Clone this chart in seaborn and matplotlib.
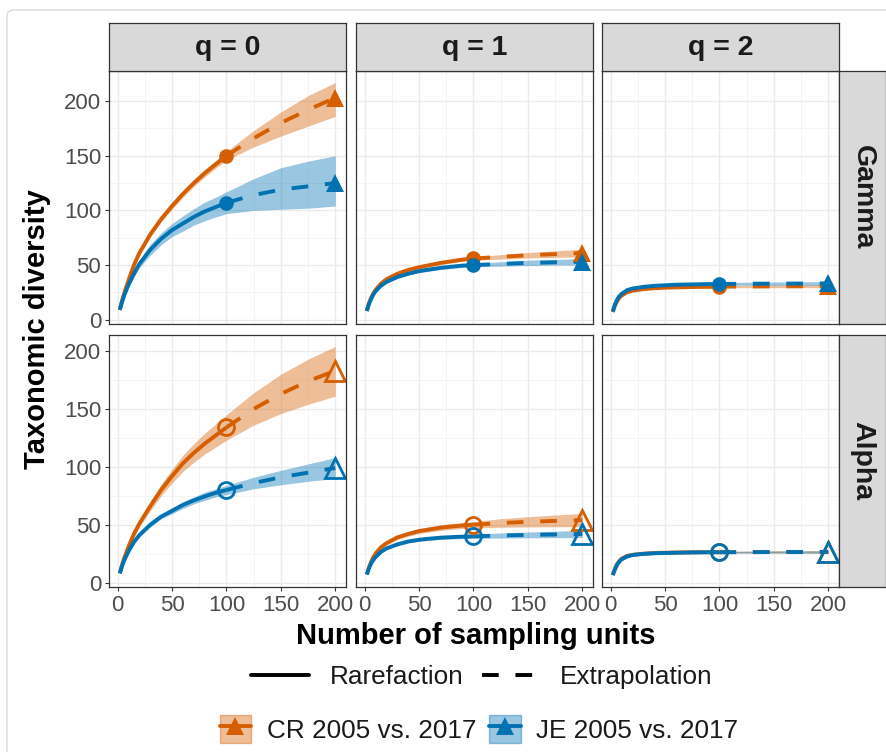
import numpy as np
import pandas as pd
import matplotlib
matplotlib.use("Agg")
import matplotlib.pyplot as plt
from matplotlib.lines import Line2D
from matplotlib.patches import Patch, FancyBboxPatch
import seaborn as sns

# ---------------- data ----------------
M = [2, 4, 6, 8, 10, 15, 20, 30, 40, 50, 60, 70, 80, 90, 100, 125, 150, 175, 200]
REF_M = 100
MAX_M = 200
LEVELS = ["Gamma", "Alpha"]
ORDERS = [0, 1, 2]
SITES = ["CR 2005 vs. 2017", "JE 2005 vs. 2017"]
COLORS = ["#D55E00", "#0072B2"]
XTICKS = [0, 50, 100, 150, 200]
YTICKS = [0, 50, 100, 150, 200]

# Gamma, q = 0
G0_CR = [9, 17, 24, 30, 36, 50, 61, 78, 92, 104, 115, 125, 134, 142, 150, 166, 180, 192, 203]
G0_CR_LO = [8.5, 16, 23, 28.5, 34.5, 48, 59, 75.5, 89.5, 101, 112, 122, 130.5, 138.5, 146, 158, 168, 177, 186]
G0_CR_HI = [9.5, 18, 25, 31.5, 37.5, 52, 63, 80.5, 94.5, 107, 118, 128, 137.5, 145.5, 154, 173, 190, 205, 217]
G0_JE = [9, 16, 22, 27, 32, 42, 51, 64, 74, 82, 88, 94, 99, 103, 107, 114, 119, 122, 125]
G0_JE_LO = [8.5, 15, 20.5, 25, 30, 39, 47.5, 59, 68.5, 76, 81, 86.5, 90.5, 94, 97, 100, 101, 102, 104]
G0_JE_HI = [9.5, 17, 23.5, 29, 34, 45, 54.5, 69, 79.5, 88, 95, 101.5, 107.5, 112, 117, 129, 139, 145, 150]
# Gamma, q = 1
G1_CR = [8, 15, 20, 24, 27, 33, 37, 42, 45.5, 48, 50, 52, 53.5, 55, 56, 57.5, 59, 60, 61]
G1_CR_LO = [7.5, 14.5, 19.5, 23, 26, 32, 36, 41, 44, 46.5, 48.5, 50.5, 52, 53.5, 54.5, 55.5, 56.5, 57, 57.5]
G1_CR_HI = [8.5, 15.5, 20.5, 25, 28, 34, 38, 43, 47, 49.5, 51.5, 53.5, 55, 56.5, 57.5, 59.5, 61.5, 63, 64.5]
G1_JE = [8, 14.5, 19, 23, 26, 31, 34.5, 39, 42, 44.5, 46, 47.5, 48.5, 49.5, 50, 51, 52, 52.5, 53]
G1_JE_LO = [7.5, 14, 18.5, 22, 25, 30, 33.5, 38, 41, 43, 44.5, 46, 47, 48, 48.5, 49, 49.5, 50, 50]
G1_JE_HI = [8.5, 15, 19.5, 24, 27, 32, 35.5, 40, 43, 46, 47.5, 49, 50, 51, 51.5, 53, 54.5, 55, 56]
# Gamma, q = 2
G2_CR = [7, 13, 17, 20, 22, 25, 26.5, 28, 28.8, 29.3, 29.6, 29.8, 30, 30.1, 30.2, 30.4, 30.5, 30.6, 30.7]
G2_CR_LO = [6.6, 12.5, 16.4, 19.3, 21.3, 24.2, 25.7, 27.1, 27.9, 28.4, 28.7, 28.9, 29.1, 29.2, 29.3, 29.3, 29.3, 29.3, 29.2]
G2_CR_HI = [7.4, 13.5, 17.6, 20.7, 22.7, 25.8, 27.3, 28.9, 29.7, 30.2, 30.5, 30.7, 30.9, 31.0, 31.1, 31.5, 31.7, 31.9, 32.2]
G2_JE = [7.5, 14, 18.5, 21.5, 23.5, 27, 28.5, 30, 31, 31.5, 32, 32.2, 32.4, 32.6, 32.7, 32.9, 33, 33.1, 33.2]
G2_JE_LO = [7.1, 13.5, 17.9, 20.8, 22.8, 26.2, 27.6, 29.1, 30.0, 30.5, 30.9, 31.1, 31.3, 31.4, 31.5, 31.5, 31.5, 31.5, 31.5]
G2_JE_HI = [7.9, 14.5, 19.1, 22.2, 24.2, 27.8, 29.4, 30.9, 32.0, 32.5, 33.1, 33.3, 33.5, 33.8, 33.9, 34.3, 34.5, 34.7, 34.9]

# Alpha, q = 0
A0_CR = [8, 15, 21, 26, 31, 42, 51, 66, 80, 92, 103, 112, 120, 127, 134, 150, 163, 174, 183]
A0_CR_LO = [7.5, 14, 20, 24.5, 29, 39.5, 48, 62, 75, 86, 96, 104, 111, 117, 123, 136, 146, 154, 161]
A0_CR_HI = [8.5, 16, 22, 27.5, 33, 44.5, 54, 70, 85, 98, 110, 120, 129, 137, 145, 164, 180, 193, 204]
A0_JE = [8, 14, 19, 23, 27, 35, 41, 50, 57, 62, 67, 71, 74.5, 77.5, 80, 86, 91, 95, 99]
A0_JE_LO = [7.5, 13.5, 18.5, 22, 26, 33.5, 39.5, 48, 55, 59.5, 64, 68, 71, 74, 76, 81, 84.5, 87.5, 90]
A0_JE_HI = [8.5, 14.5, 19.5, 24, 28, 36.5, 42.5, 52, 59, 64.5, 70, 74, 78, 81, 84, 91, 97, 102.5, 108]
# Alpha, q = 1
A1_CR = [7, 13, 18, 22, 25, 30.5, 34, 39, 42, 44.5, 46, 47.5, 48.5, 49.3, 50, 51.5, 52.5, 53.3, 54]
A1_CR_LO = [6.5, 12.3, 17.2, 21, 23.9, 29.2, 32.5, 37.3, 40.1, 42.4, 43.8, 45.1, 46, 46.7, 47.3, 47.8, 48.1, 48.2, 48.3]
A1_CR_HI = [7.5, 13.7, 18.8, 23, 26.1, 31.8, 35.5, 40.7, 43.9, 46.6, 48.2, 49.9, 51, 51.9, 52.7, 55.2, 56.9, 58.4, 59.7]
A1_JE = [7, 12.5, 16.5, 19.5, 22, 26.5, 29.5, 33, 35.5, 37, 38, 38.8, 39.3, 39.7, 40, 40.7, 41.2, 41.6, 42]
A1_JE_LO = [6.6, 12, 15.9, 18.8, 21.2, 25.6, 28.5, 31.9, 34.3, 35.7, 36.6, 37.3, 37.7, 38.0, 38.2, 38.5, 38.7, 38.8, 38.9]
A1_JE_HI = [7.4, 13, 17.1, 20.2, 22.8, 27.4, 30.5, 34.1, 36.7, 38.3, 39.4, 40.3, 40.9, 41.4, 41.8, 42.9, 43.7, 44.4, 45.1]
# Alpha, q = 2
A2_CR = [6.5, 12, 16, 18.5, 20.5, 23, 24, 25, 25.5, 25.8, 26, 26.1, 26.2, 26.3, 26.3, 26.4, 26.5, 26.5, 26.6]
A2_CR_LO = [6.1, 11.5, 15.4, 17.9, 19.8, 22.3, 23.3, 24.3, 24.8, 25.1, 25.3, 25.4, 25.5, 25.6, 25.6, 25.6, 25.6, 25.5, 25.5]
A2_CR_HI = [6.9, 12.5, 16.6, 19.1, 21.2, 23.7, 24.7, 25.7, 26.2, 26.5, 26.7, 26.8, 26.9, 27.0, 27.0, 27.2, 27.4, 27.5, 27.7]
A2_JE = [6.5, 11.5, 15.5, 18, 20, 22.5, 23.8, 24.8, 25.3, 25.6, 25.8, 26, 26.1, 26.2, 26.2, 26.3, 26.4, 26.4, 26.5]
A2_JE_LO = [6.1, 11, 14.9, 17.4, 19.3, 21.8, 23.1, 24.1, 24.6, 24.9, 25.1, 25.3, 25.4, 25.5, 25.5, 25.5, 25.5, 25.4, 25.4]
A2_JE_HI = [6.9, 12, 16.1, 18.6, 20.7, 23.2, 24.5, 25.5, 26.0, 26.3, 26.5, 26.7, 26.8, 26.9, 26.9, 27.1, 27.3, 27.4, 27.6]

SERIES = {
    ("Gamma", 0): [(G0_CR, G0_CR_LO, G0_CR_HI), (G0_JE, G0_JE_LO, G0_JE_HI)],
    ("Gamma", 1): [(G1_CR, G1_CR_LO, G1_CR_HI), (G1_JE, G1_JE_LO, G1_JE_HI)],
    ("Gamma", 2): [(G2_CR, G2_CR_LO, G2_CR_HI), (G2_JE, G2_JE_LO, G2_JE_HI)],
    ("Alpha", 0): [(A0_CR, A0_CR_LO, A0_CR_HI), (A0_JE, A0_JE_LO, A0_JE_HI)],
    ("Alpha", 1): [(A1_CR, A1_CR_LO, A1_CR_HI), (A1_JE, A1_JE_LO, A1_JE_HI)],
    ("Alpha", 2): [(A2_CR, A2_CR_LO, A2_CR_HI), (A2_JE, A2_JE_LO, A2_JE_HI)],
}

# long table
rows = []
for (lev, q), lst in SERIES.items():
    for site, (est, lo, hi) in zip(SITES, lst):
        for m, e, l, h in zip(M, est, lo, hi):
            if m <= REF_M:
                rows.append(dict(level=lev, q=q, site=site, m=m, est=e, lo=l, hi=h, method="Rarefaction"))
            if m >= REF_M:
                rows.append(dict(level=lev, q=q, site=site, m=m, est=e, lo=l, hi=h, method="Extrapolation"))
df = pd.DataFrame(rows)

# ---------------- style ----------------
sns.set_theme(style="white")
plt.rcParams["font.family"] = ["Liberation Sans", "DejaVu Sans"]

W, H = 887, 752
fig = plt.figure(figsize=(W / 100, H / 100), dpi=100)

def rect(l, t, r, b):
    return [l / W, 1 - b / H, (r - l) / W, (b - t) / H]

# screenshot-like frame
fig.patches.append(FancyBboxPatch((7 / W, -0.05), 1.2, 1 - 10 / H + 0.05,
                                  boxstyle="round,pad=0,rounding_size=0.008",
                                  transform=fig.transFigure, fc="none", ec="#DADADA", lw=1.0))

COL_L = [109, 356, 602]
COL_W = 237
ROW_T = [71, 335]
ROW_B = [324, 587]
STRIP_T = 23
STRIP_R = 886

EDGE = "#333333"
STRIP_FC = "#D9D9D9"
LW = 2.8
DASH = (4.3, 4.3)
palette = dict(zip(SITES, COLORS))

xspan = MAX_M - min(M)
xlim = (min(M) - 0.05 * xspan, MAX_M + 0.05 * xspan)

for r, lev in enumerate(LEVELS):
    sub_lev = df[df.level == lev]
    ymin, ymax = sub_lev.lo.min(), sub_lev.hi.max()
    ysp = ymax - ymin
    ylim = (ymin - 0.05 * ysp, ymax + 0.05 * ysp)
    for c, q in enumerate(ORDERS):
        ax = fig.add_axes(rect(COL_L[c], ROW_T[r], COL_L[c] + COL_W, ROW_B[r]))
        sub = sub_lev[sub_lev.q == q]
        ax.set_axisbelow(True)
        # ribbons
        for site, col in zip(SITES, COLORS):
            s = sub[sub.site == site].drop_duplicates("m").sort_values("m")
            ax.fill_between(s.m, s.lo, s.hi, color=col, alpha=0.4, lw=0)
        # lines
        sns.lineplot(data=sub, x="m", y="est", hue="site", style="method",
                     hue_order=SITES, palette=palette,
                     style_order=["Rarefaction", "Extrapolation"],
                     dashes={"Rarefaction": "", "Extrapolation": DASH},
                     lw=LW, legend=False, ax=ax, sort=True, estimator=None)
        for ln in ax.lines:
            ln.set_dash_capstyle("butt")
            ln.set_solid_capstyle("butt")
        # points
        for site, col in zip(SITES, COLORS):
            s = sub[sub.site == site].drop_duplicates("m").set_index("m")
            filled = (lev == "Gamma")
            ax.plot([REF_M], [s.loc[REF_M, "est"]], marker="o", ls="none",
                    ms=10.5 if filled else 11.5, mfc=col if filled else "none",
                    mec=col, mew=0 if filled else 2.0)
            ax.plot([MAX_M], [s.loc[MAX_M, "est"]], marker="^", ls="none",
                    ms=13 if filled else 15, mfc=col if filled else "none",
                    mec=col, mew=0 if filled else 2.0)
        ax.set_xlim(xlim)
        ax.set_ylim(ylim)
        ax.set_xticks(XTICKS)
        ax.set_yticks(YTICKS)
        ax.set_xticks([25, 75, 125, 175], minor=True)
        ax.set_yticks([25, 75, 125, 175], minor=True)
        ax.grid(True, which="major", color="#EBEBEB", lw=1.0)
        ax.grid(True, which="minor", color="#F3F3F3", lw=0.6)
        ax.tick_params(which="minor", length=0)
        ax.tick_params(which="major", length=3.2, width=0.8, color=EDGE,
                       labelsize=16, labelcolor="#4D4D4D", pad=2.5,
                       left=(c == 0), bottom=(r == 1),
                       labelleft=(c == 0), labelbottom=(r == 1))
        ax.set_xlabel("")
        ax.set_ylabel("")
        for sp in ax.spines.values():
            sp.set_color(EDGE)
            sp.set_linewidth(0.9)
        # top strip
        if r == 0:
            sax = fig.add_axes(rect(COL_L[c], STRIP_T, COL_L[c] + COL_W, ROW_T[0]))
            sax.set_facecolor(STRIP_FC)
            sax.set_xticks([]); sax.set_yticks([])
            for sp in sax.spines.values():
                sp.set_color(EDGE); sp.set_linewidth(0.9)
            sax.text(0.5, 0.48, f"q = {q}", ha="center", va="center",
                     fontsize=20.5, fontweight="bold", color="#1A1A1A",
                     transform=sax.transAxes)
        # right strip
        if c == 2:
            rax = fig.add_axes(rect(COL_L[2] + COL_W, ROW_T[r], STRIP_R, ROW_B[r]))
            rax.set_facecolor(STRIP_FC)
            rax.set_xticks([]); rax.set_yticks([])
            for sp in rax.spines.values():
                sp.set_color(EDGE); sp.set_linewidth(0.9)
            rax.text(0.5, 0.5, lev, ha="center", va="center", rotation=-90,
                     fontsize=20.5, fontweight="bold", color="#1A1A1A",
                     transform=rax.transAxes)

# axis titles
fig.text(37 / W, 1 - 329 / H, "Taxonomic diversity", rotation=90, ha="center",
         va="center", fontsize=21, fontweight="bold", color="black")
fig.text(476 / W, 1 - 636 / H, "Number of sampling units", ha="center",
         va="center", fontsize=21, fontweight="bold", color="black")

# legends
h1 = [Line2D([], [], color="black", lw=LW, ls="-"),
      Line2D([], [], color="black", lw=LW, dashes=DASH, dash_capstyle="butt")]
leg1 = fig.legend(h1, ["Rarefaction", "Extrapolation"], loc="center",
                  bbox_to_anchor=(482 / W, 1 - 677 / H), ncol=2, frameon=False,
                  fontsize=18.8, handlelength=2.2, handletextpad=0.8,
                  columnspacing=0.7, borderpad=0.0)
for t in leg1.get_texts():
    t.set_color("#1A1A1A")

h2 = []
for col in COLORS:
    h2.append((Patch(facecolor=col, alpha=0.4, edgecolor=col, lw=1.0),
               Line2D([], [], color=col, lw=LW, marker="^", ms=13, mew=0)))
leg2 = fig.legend(h2, SITES, loc="center", bbox_to_anchor=(479 / W, 1 - 729 / H),
                  ncol=2, frameon=False, fontsize=18.8, handlelength=1.2,
                  handleheight=1.3, handletextpad=0.6, columnspacing=0.5,
                  borderpad=0.0, numpoints=1)
for t in leg2.get_texts():
    t.set_color("#1A1A1A")

fig.savefig("out.png", dpi=100, facecolor="white")
